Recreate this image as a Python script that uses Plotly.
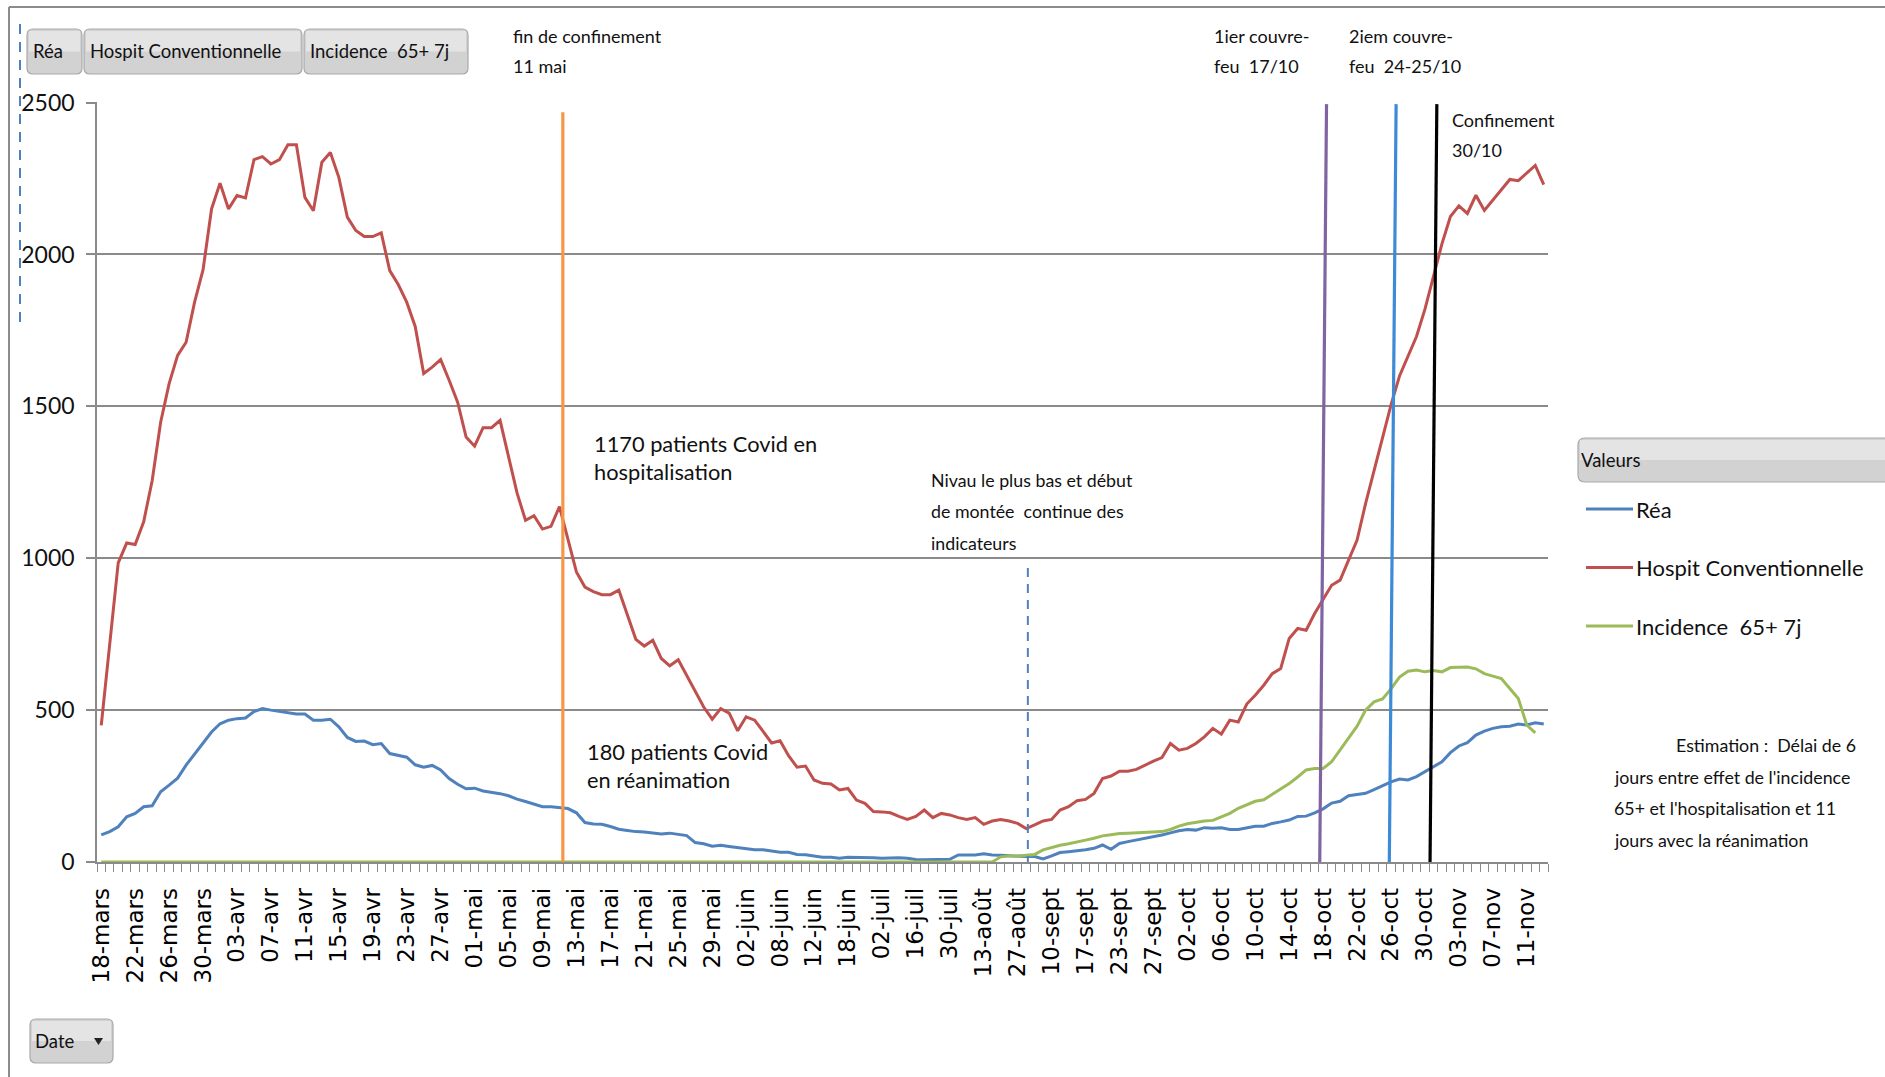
import plotly.graph_objects as go

W, H = 1885, 1077


def serie_jours(mois, debut, fin):
    return [f"{j:02d}-{mois}" for j in range(debut, fin + 1)]


# Category axis: one slot per reporting date
dates = (
    serie_jours("mars", 18, 31) + serie_jours("avr", 1, 30) + serie_jours("mai", 1, 31)
    + serie_jours("juin", 1, 5)
    + ["08-juin", "09-juin", "10-juin", "11-juin", "12-juin", "15-juin", "16-juin", "17-juin",
       "18-juin", "22-juin", "25-juin", "29-juin", "02-juil", "06-juil", "09-juil", "13-juil",
       "16-juil", "20-juil", "23-juil", "27-juil", "30-juil", "03-août", "06-août", "10-août",
       "13-août", "17-août", "20-août", "24-août", "27-août", "31-août", "03-sept", "07-sept",
       "10-sept", "11-sept", "14-sept", "15-sept", "17-sept", "18-sept", "21-sept", "22-sept",
       "23-sept"]
    + serie_jours("sept", 24, 30) + serie_jours("oct", 2, 31) + serie_jours("nov", 1, 13)
)

rea = [
    89, 100, 116, 149, 160, 182, 185, 231, 253, 276, 319, 355, 395, 428, 455, 467, 472, 474, 495, 505,
    500, 495, 490, 487, 487, 467, 467, 470, 445, 410, 397, 398, 386, 390, 357, 352, 345, 320, 312, 318,
    303, 275, 256, 241, 243, 234, 230, 225, 218, 207, 199, 190, 182, 182, 180, 176, 162, 130, 125, 124,
    117, 108, 104, 100, 99, 96, 92, 95, 91, 87, 64, 60, 52, 55, 51, 47, 43, 40, 40, 36,
    32, 32, 25, 24, 20, 16, 16, 12, 16, 16, 15, 14, 12, 13, 14, 12, 8, 7, 7, 8,
    9, 23, 23, 23, 27, 23, 22, 20, 18, 18, 18, 10, 20, 31, 34, 36, 40, 45, 56, 42,
    61, 67, 72, 78, 83, 89, 96, 103, 107, 105, 113, 111, 113, 107, 107, 113, 118, 118, 127, 132,
    138, 150, 151, 162, 175, 194, 200, 218, 222, 226, 238, 252, 264, 273, 270, 281, 297, 313, 330, 360,
    382, 393, 418, 431, 440, 445, 447, 454, 451, 458, 454,
]

hospit = [
    450, 730, 985, 1050, 1045, 1120, 1255, 1448, 1575, 1668, 1711, 1843, 1950, 2150, 2235, 2150, 2194, 2186, 2312, 2322,
    2298, 2312, 2361, 2361, 2188, 2144, 2304, 2336, 2254, 2123, 2079, 2059, 2059, 2071, 1947, 1901, 1843, 1763, 1608, 1629,
    1654, 1586, 1514, 1399, 1369, 1430, 1430, 1454, 1333, 1215, 1125, 1140, 1096, 1105, 1170, 1059, 955, 905, 890, 880,
    880, 895, 815, 733, 711, 730, 670, 646, 666, 615, 566, 510, 470, 505, 490, 432, 478, 467, 430, 392,
    399, 350, 312, 316, 270, 259, 257, 237, 242, 204, 193, 166, 165, 162, 150, 140, 150, 171, 146, 160,
    155, 146, 140, 146, 124, 135, 140, 135, 127, 110, 122, 135, 140, 171, 182, 202, 206, 226, 275, 283,
    299, 299, 305, 319, 332, 344, 390, 368, 374, 390, 412, 440, 421, 467, 461, 520, 549, 582, 620, 637,
    736, 769, 763, 818, 865, 911, 928, 995, 1060, 1180, 1290, 1395, 1505, 1600, 1665, 1730, 1820, 1925, 2035, 2125,
    2160, 2135, 2195, 2145, 2180, 2215, 2247, 2243, 2268, 2293, 2230,
]

incidence = [0] * 106 + [
    17, 20, 20, 22, 25, 40, 48, 55, 60, 67, 72, 78, 86, 90,
    94, 95, 96, 98, 100, 100, 107, 118, 126, 131, 135, 137, 149, 160, 177, 188, 200, 205, 222, 240,
    258, 280, 303, 308, 308, 330, 370, 410, 447, 500, 527, 537, 570, 609, 628, 632, 626, 630, 626, 640,
    642, 642, 636, 620, 612, 604, 571, 538, 451, 425, None,
]

series = [
    ("Réa", rea, "#4F81BD"),
    ("Hospit Conventionnelle", hospit, "#C0504D"),
    ("Incidence  65+ 7j", incidence, "#9BBB59"),
]

y_ticks = [0, 500, 1000, 1500, 2000, 2500]

# Dated events drawn as hand-placed vertical markers (date, colour, bottom/top shift, top value)
evenements = [
    ("11-mai", "#F79646", 0.4, 0.4, 2468),
    ("17-oct", "#8064A2", 0.6, 1.4, 2495),
    ("25-oct", "#3D8AD6", 0.8, 1.6, 2495),
    ("30-oct", "#000000", 0.6, 1.4, 2495),
]

SANS = "Lato, Carlito, sans-serif"
INK = "#111111"
GRID = "#8A8A8A"

x_idx = list(range(len(dates)))

fig = go.Figure()
for nom, valeurs, couleur in series:
    fig.add_trace(go.Scatter(
        x=x_idx, y=valeurs, name=nom, mode="lines",
        line=dict(color=couleur, width=3), connectgaps=False,
    ))


def X(px):
    return px / W


def Y(py):
    return 1 - py / H


shapes = []
annotations = []

# Vertical event markers
for date, couleur, d_bas, d_haut, haut in evenements:
    i = dates.index(date)
    shapes.append(dict(type="line", xref="x", yref="y", x0=i + d_bas, x1=i + d_haut,
                       y0=0, y1=haut, line=dict(color=couleur, width=3.2), layer="above"))

# Dashed marker at the lowest hospitalisation level
i_min = hospit.index(min(hospit))
shapes.append(dict(type="line", xref="x", yref="y", x0=i_min + 0.2, x1=i_min + 0.2,
                   y0=-10, y1=985, line=dict(color="#4F81BD", width=2, dash="9px,7px"), layer="above"))


def rrect(x0, y0, x1, y1, r, line="#A9A9A9"):
    rx, ry = r / W, r / H
    a, b, c, d = X(x0), Y(y0), X(x1), Y(y1)
    path = (f"M{a + rx},{b} L{c - rx},{b} Q{c},{b} {c},{b - ry} L{c},{d + ry} "
            f"Q{c},{d} {c - rx},{d} L{a + rx},{d} Q{a},{d} {a},{d + ry} L{a},{b - ry} Q{a},{b} {a + rx},{b} Z")
    # darker lower half, lighter upper half for a soft bevel
    mid = (y0 + y1) / 2
    shapes.append(dict(type="path", xref="paper", yref="paper", path=path,
                       fillcolor="#D2D2D2", line=dict(color=line, width=1.2), layer="above"))
    shapes.append(dict(type="rect", xref="paper", yref="paper",
                       x0=X(x0 + 2), x1=X(x1 - 2), y0=Y(y0 + 2), y1=Y(mid),
                       fillcolor="#E4E4E4", line=dict(width=0), layer="above"))


def texte(x, y, s, size, anchor="left", color=INK):
    annotations.append(dict(x=X(x), y=Y(y), xref="paper", yref="paper", text=s, showarrow=False,
                            xanchor=anchor, yanchor="middle",
                            font=dict(family=SANS, size=size, color=color)))


# Outer frame of the chart object
shapes.append(dict(type="line", xref="paper", yref="paper", x0=X(9), x1=X(1885), y0=Y(7), y1=Y(7),
                   line=dict(color="#8C8C8C", width=2)))
shapes.append(dict(type="line", xref="paper", yref="paper", x0=X(9), x1=X(9), y0=Y(7), y1=Y(1077),
                   line=dict(color="#8C8C8C", width=2)))
shapes.append(dict(type="line", xref="paper", yref="paper", x0=X(20), x1=X(20), y0=Y(24), y1=Y(325),
                   line=dict(color="#4F81BD", width=2, dash="10px,8px")))

# Field buttons along the top
boutons = [("Réa", 27, 82), ("Hospit Conventionnelle", 84, 302), ("Incidence  65+ 7j", 304, 468)]
for nom, x0, x1 in boutons:
    rrect(x0, 29, x1, 74, 6)
    texte(x0 + 4, 51, nom, 18.5)

# Axis field button
rrect(30, 1019, 113, 1063, 6)
texte(33, 1041, "Date", 18.5)
shapes.append(dict(type="path", xref="paper", yref="paper",
                   path=f"M{X(94)},{Y(1038)} L{X(103)},{Y(1038)} L{X(98.5)},{Y(1045)} Z",
                   fillcolor="#222222", line=dict(width=0), layer="above"))

# Legend block
rrect(1578, 438, 1892, 482, 7)
texte(1579, 460, "Valeurs", 18.5)
for k, (nom, _, couleur) in enumerate(series):
    yy = 509 + k * 58.5
    shapes.append(dict(type="line", xref="paper", yref="paper", x0=X(1586), x1=X(1633),
                       y0=Y(yy), y1=Y(yy), line=dict(color=couleur, width=3)))
    texte(1634, yy, nom, 22)

# Event captions
texte(511, 36, "fin de confinement", 18)
texte(511, 66, "11 mai", 18)
texte(1212, 36, "1ier couvre-", 18)
texte(1212, 66, "feu  17/10", 18)
texte(1347, 36, "2iem couvre-", 18)
texte(1347, 66, "feu  24-25/10", 18)
texte(1450, 120, "Confinement", 18)
texte(1450, 150, "30/10", 18)

texte(592, 443, "1170 patients Covid en", 21.8)
texte(592, 472, "hospitalisation", 21.8)
texte(585, 751, "180 patients Covid", 21.8)
texte(585, 780, "en réanimation", 21.8)

texte(929, 480, "Nivau le plus bas et début", 17.8)
texte(929, 511, "de montée  continue des", 17.8)
texte(929, 543, "indicateurs", 17.8)

texte(1858, 745, "Estimation :  Délai de 6", 17.8, anchor="right")
texte(1612, 777, "jours entre effet de l'incidence", 17.8)
texte(1612, 808, "65+ et l'hospitalisation et 11", 17.8)
texte(1612, 840, "jours avec la réanimation", 17.8)

fig.update_layout(
    width=W, height=H,
    margin=dict(l=0, r=0, t=0, b=0),
    paper_bgcolor="white", plot_bgcolor="white",
    showlegend=False,
    shapes=shapes, annotations=annotations,
    xaxis=dict(
        domain=[97 / W, 1548 / W], range=[-0.5, len(dates) - 0.5],
        tickmode="array", tickvals=x_idx[::4], ticktext=dates[::4], tickangle=-90,
        ticks="", showgrid=False, zeroline=False,
        showline=True, linecolor=GRID, linewidth=1.5,
        tickfont=dict(family="DejaVu Sans", size=23, color="#000000"),
        ticklabelstandoff=15,
        minor=dict(ticks="outside", ticklen=8, tickcolor=GRID, tickwidth=1,
                   tickmode="linear", tick0=-0.5, dtick=1, showgrid=False),
        automargin=False, fixedrange=True,
    ),
    yaxis=dict(
        domain=[1 - 862 / H, 1 - 102 / H], range=[0, 2502],
        tickmode="array", tickvals=y_ticks,
        ticks="outside", ticklen=9, tickcolor=GRID, tickwidth=1.5,
        showgrid=True, gridcolor=GRID, gridwidth=1.5,
        showline=True, linecolor=GRID, linewidth=1.5, zeroline=False,
        tickfont=dict(family=SANS, size=23, color="#111111"),
        ticklabelstandoff=7,
        automargin=False, fixedrange=True,
    ),
)

fig.write_html("out.html")
